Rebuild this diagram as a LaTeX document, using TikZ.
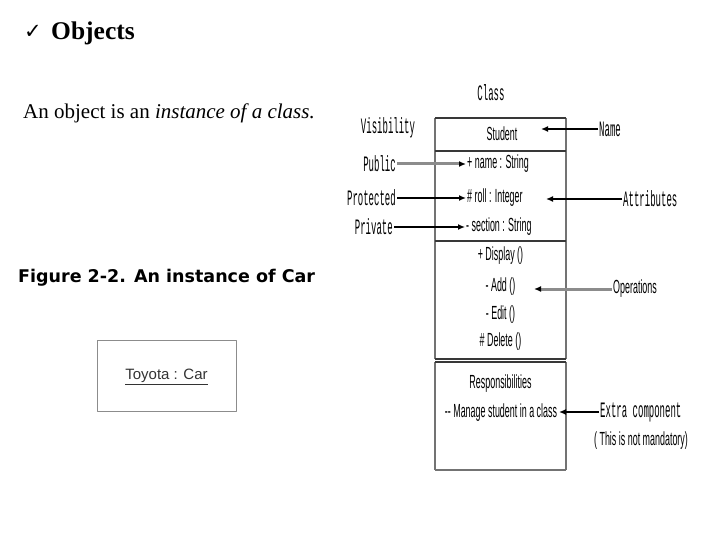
\documentclass[tikz,border=0pt]{standalone}
\usepackage{fontspec}
\setmainfont{Liberation Serif}
\newfontfamily\symfont{DejaVu Sans}
\newfontfamily\capfont{DejaVu Sans}
\newfontfamily\arialfont{Liberation Sans}
\newfontfamily\umlfont[FakeStretch=0.47]{Liberation Sans}
\newfontfamily\tagfont[FakeStretch=0.41]{Liberation Mono}
\usetikzlibrary{arrows.meta}
\definecolor{sidegray}{gray}{0.45}
\definecolor{bargray}{gray}{0.22}
\definecolor{linegray}{gray}{0.55}
\definecolor{toyogray}{gray}{0.55}

\begin{document}
\begin{tikzpicture}[x=1pt,y=-1pt,line join=round,>={Latex[length=7pt,width=6pt]},
  every node/.style={inner sep=1pt},
  uml/.style={font=\umlfont\fontsize{19}{19}\selectfont},
  tag/.style={font=\tagfont\fontsize{22}{22}\selectfont},
  bar/.style={draw=bargray,line width=2.6pt},
  side/.style={draw=sidegray,line width=1.4pt},
  pointer/.style={->,line width=1.3pt},
  greypointer/.style={-{Latex[length=7pt,width=6pt,color=black]},draw=linegray,line width=3pt}]
  \def\bl{435}
  \def\br{566}
  \def\bc{500.5}
  \useasboundingbox (0,0) rectangle (720,540);
  \node[anchor=base west] (tick) at (23,39) {\symfont\bfseries\fontsize{21}{21}\selectfont ✓};
  \node[anchor=base west] (title) at (50,40) {\fontsize{25.5}{25.5}\selectfont\bfseries Objects};
  \node[anchor=base west] (intro) at (22,119) {\fontsize{21}{21}\selectfont An object is an \textit{instance of a class.}};
  \node[anchor=base west] (figcap) at (17,282) {\capfont\bfseries\fontsize{17.5}{17.5}\selectfont Figure 2-2. An instance of Car};
  \node[draw=toyogray,line width=1pt,minimum width=139pt,minimum height=71pt] (toyota) at (166.5,375.5) {};
  \node[text=black!80] (toyotxt) at (166.5,377) {\arialfont\fontsize{15}{15}\selectfont\underline{Toyota : Car}};
  \draw[side] (\bl,118) -- (\bl,359);
  \draw[side] (\br,118) -- (\br,359);
  \draw[side] (\bl,362) -- (\bl,470);
  \draw[side] (\br,362) -- (\br,470);
  \draw[bar] (\bl,118) -- (\br,118);
  \draw[bar] (\bl,151) -- (\br,151);
  \draw[bar] (\bl,241) -- (\br,241);
  \draw[bar] (\bl,359) -- (\br,359);
  \draw[bar] (\bl,362) -- (\br,362);
  \draw[draw=sidegray,line width=2.6pt] (\bl,470) -- (\br,470);
  \node[tag] (classlbl) at (491,93) {Class};
  \node[uml] (student) at (502,134) {Student};
  \node[uml,anchor=west] (attrname) at (466,164) {+ name : String};
  \node[uml,anchor=west] (attrroll) at (466,198) {\# roll : Integer};
  \node[uml,anchor=west] (attrsec) at (465,227) {- section : String};
  \node[uml] (opdisp) at (\bc,256) {+ Display ()};
  \node[uml] (opadd) at (\bc,287) {- Add ()};
  \node[uml] (opedit) at (\bc,315) {- Edit ()};
  \node[uml] (opdel) at (\bc,342) {\# Delete ()};
  \node[uml] (resp) at (\bc,384) {Responsibilities};
  \node[uml] (manage) at (501,413) {-- Manage student in a class};
  \node[tag] (visib) at (388,128) {Visibility};
  \node[tag,anchor=east] (public) at (397,164) {Public};
  \node[tag,anchor=east] (protected) at (397,198) {Protected};
  \node[tag,anchor=east] (private) at (394,227) {Private};
  \node[tag,anchor=west] (namelbl) at (598,129) {Name};
  \node[tag,anchor=west] (attrlbl) at (622,199) {Attributes};
  \node[uml,anchor=west] (oplbl) at (612,289) {Operations};
  \node[tag,anchor=west] (extralbl) at (599,412) {Extra component};
  \node[uml] (extranote) at (641,441) {( This is not mandatory)};
  \coordinate (nametip) at (541,129);
  \coordinate (attrtip) at (546,199);
  \coordinate (optip) at (534,289);
  \coordinate (extratip) at (559,412);
  \draw[greypointer] (public.east) -- (attrname.west);
  \draw[pointer] (protected.east) -- (attrroll.west);
  \draw[pointer] (private.east) -- (attrsec.west);
  \draw[pointer] (namelbl.west) -- (namelbl.west -| nametip);
  \draw[pointer] (attrlbl.west) -- (attrlbl.west -| attrtip);
  \draw[greypointer] (oplbl.west) -- (oplbl.west -| optip);
  \draw[pointer] (extralbl.west) -- (extralbl.west -| extratip);
\end{tikzpicture}
\end{document}
